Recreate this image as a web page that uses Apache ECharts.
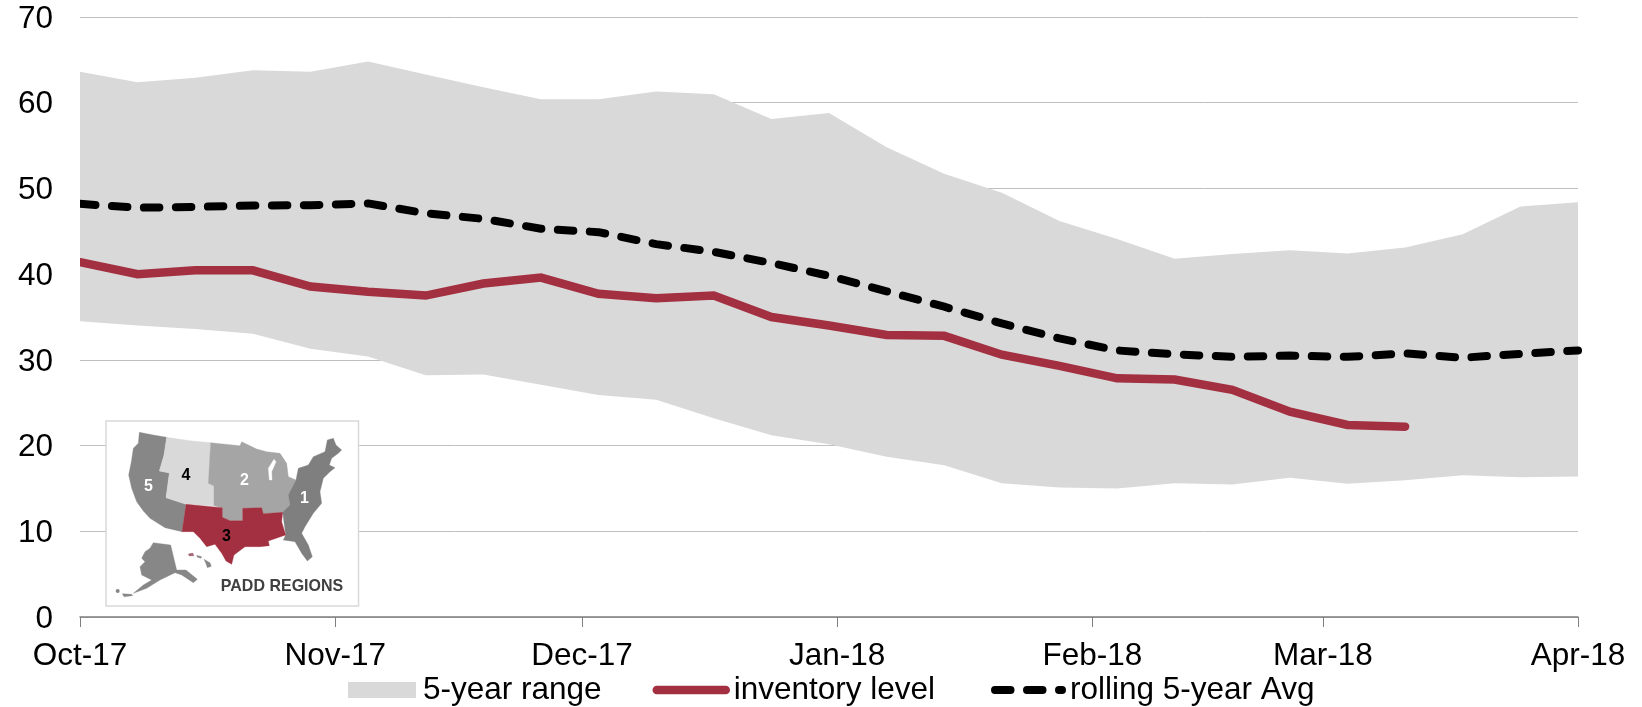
<!DOCTYPE html>
<html>
<head>
<meta charset="utf-8">
<title>PADD 3 inventory</title>
<style>
  html, body { margin: 0; padding: 0; background: #fff; }
  #chart { width: 1642px; height: 707px; }
</style>
<script src="https://cdn.jsdelivr.net/npm/echarts@6/dist/echarts.min.js"></script>
</head>
<body>
<div id="chart"></div>
<script>
// Weekly observation dates
const weeks = [
  '2017-10-01','2017-10-08','2017-10-15','2017-10-22','2017-10-29',
  '2017-11-05','2017-11-12','2017-11-19','2017-11-26',
  '2017-12-03','2017-12-10','2017-12-17','2017-12-24','2017-12-31',
  '2018-01-07','2018-01-14','2018-01-21','2018-01-28',
  '2018-02-04','2018-02-11','2018-02-18','2018-02-25',
  '2018-03-04','2018-03-11','2018-03-18','2018-03-25','2018-04-01'
];

// Lower and upper edges of the 5-year range
const rangeLow = [
  34.5,34.0,33.6,33.05,31.3,30.4,28.2,28.3,27.1,25.9,25.35,23.2,21.2,20.15,
  18.7,17.7,15.6,15.1,15.0,15.6,15.45,16.25,15.55,15.95,16.55,16.3,16.4
];
const rangeHigh = [
  63.6,62.4,62.9,63.8,63.6,64.8,63.3,61.8,60.4,60.4,61.3,61.0,58.1,58.8,
  54.8,51.7,49.5,46.2,44.1,41.8,42.35,42.8,42.4,43.1,44.65,47.9,48.4
];

// Inventory level, reported through late March
const inventory = [
  41.4,40.0,40.45,40.45,38.55,37.95,37.5,38.9,39.6,37.7,37.2,37.5,35.0,34.0,
  32.9,32.8,30.6,29.3,27.85,27.7,26.5,23.95,22.4,22.2
];

// Rolling 5-year average
const rollingAvg = [
  48.2,47.75,47.85,48.0,48.05,48.25,47.1,46.45,45.3,44.9,43.5,42.6,41.3,39.8,
  38.0,36.2,34.25,32.5,31.1,30.65,30.35,30.5,30.35,30.75,30.25,30.7,31.1
];

// Month ticks on the date axis
const monthTicks = ['2017-10-01','2017-11-01','2017-12-01','2018-01-01','2018-02-01','2018-03-01','2018-04-01'];
const monthLabels = ['Oct-17','Nov-17','Dec-17','Jan-18','Feb-18','Mar-18','Apr-18'];

const FONT = '"Liberation Sans", Arial, sans-serif';
const TEXT_SIZE = 31.5;
const RED = '#a33041';
const pairs = (values) => values.map((v, i) => [weeks[i], v]);
const tickTimes = monthTicks.map((d) => +echarts.time.parse(d));

// PADD region outlines for the inset map, in the inset's own drawing units
const padd5 = [[148,82],[190,90],[230,97],[222,150],[208,198],[238,204],[228,278],[288,298],[276,380],[225,368],[180,340],[160,318],[140,290],[125,250],[116,210],[124,170],[130,130],[145,115]];
const padd4 = [[230,97],[300,107],[362,113],[355,235],[372,243],[372,302],[288,298],[228,278],[238,204],[208,198],[222,150]];
const padd2 = [[362,113],[450,122],[455,110],[500,132],[530,140],[570,145],[590,175],[595,215],[618,225],[595,270],[600,300],[578,322],[520,326],[515,308],[458,310],[458,347],[420,347],[397,337],[397,308],[372,302],[372,243],[355,235]];
const lakeMichigan = [[538,225],[535,190],[552,163],[558,170],[545,200],[546,225]];
const padd3 = [[288,298],[397,308],[397,337],[420,347],[458,347],[458,310],[515,308],[520,326],[578,322],[575,350],[587,390],[535,408],[538,422],[510,425],[465,425],[432,450],[425,478],[408,468],[395,445],[375,418],[350,425],[330,400],[310,380],[276,380]];
const padd1 = [[712,105],[730,100],[738,120],[755,135],[745,145],[725,160],[718,180],[735,188],[720,200],[700,220],[690,260],[695,295],[670,325],[645,365],[635,385],[655,420],[667,455],[652,468],[635,445],[615,410],[580,405],[587,390],[578,322],[600,300],[595,270],[618,225],[625,190],[655,180],[670,155],[705,140]];
const alaska = [[190,413],[242,420],[260,495],[288,495],[322,523],[310,533],[275,510],[255,503],[210,525],[170,550],[130,565],[160,540],[185,525],[155,510],[150,485],[165,470],[155,460],[165,440],[180,430]];
const aleutians = [[97,566],[125,568],[128,572],[102,575]];
const kauai = [[295,447],[308,444],[312,452],[298,453]];
const oahu = [[320,451],[335,455],[333,460],[322,457]];
const bigIsland = [[342,463],[360,473],[364,484],[352,488],[348,476]];

const INSET_Z = 101;
const poly = (points, fill) => ({ type: 'polygon', z: INSET_Z, shape: { points }, style: { fill, stroke: fill, lineWidth: 1 } });
const mapText = (text, x, y, fill, size) => ({
  type: 'text', x, y, z: INSET_Z + 1,
  style: { text, fill, font: 'bold ' + size + 'px ' + FONT, textAlign: 'center', textVerticalAlign: 'middle' }
});

const chart = echarts.init(document.getElementById('chart'), null, { renderer: 'canvas' });
chart.setOption({
  animation: false,
  backgroundColor: '#fff',
  textStyle: { fontFamily: FONT },
  grid: { left: 80, right: 64, top: 17, bottom: 90 },
  xAxis: {
    type: 'time',
    min: '2017-10-01',
    max: '2018-04-01',
    splitNumber: 6,
    splitLine: { show: false },
    axisLine: { show: true, lineStyle: { color: '#7f7f7f', width: 1.5 } },
    axisTick: { show: true, length: 10, lineStyle: { color: '#7f7f7f', width: 1 } },
    axisLabel: {
      showMinLabel: true,
      showMaxLabel: true,
      alignMinLabel: 'center',
      alignMaxLabel: 'center',
      hideOverlap: false,
      margin: 23,
      fontSize: TEXT_SIZE,
      fontFamily: FONT,
      color: '#000',
      formatter: (value) => monthLabels[tickTimes.indexOf(+value)] || ''
    }
  },
  yAxis: {
    type: 'value',
    min: 0,
    max: 70,
    interval: 10,
    axisLine: { show: false },
    axisTick: { show: false },
    splitLine: { show: true, lineStyle: { color: '#bfbfbf', width: 1 } },
    axisLabel: { margin: 27, fontSize: TEXT_SIZE, fontFamily: FONT, color: '#000', verticalAlign: 'top', lineHeight: 4 }
  },
  legend: [
    {
      data: [{ name: '5-year range', icon: 'rect', itemStyle: { color: '#d9d9d9' } }],
      left: 348, top: 674, padding: 0, itemWidth: 68, itemHeight: 16,
      textStyle: { fontSize: TEXT_SIZE, fontFamily: FONT, color: '#000', padding: [0, 0, 0, 2], lineHeight: 16 }
    },
    {
      data: ['inventory level'],
      left: 652.5, top: 674, padding: 0, itemWidth: 69, itemHeight: 16,
      itemStyle: { opacity: 0 },
      lineStyle: { width: 8.5, cap: 'round' },
      textStyle: { fontSize: TEXT_SIZE, fontFamily: FONT, color: '#000', padding: [0, 0, 0, 3], lineHeight: 16 }
    },
    {
      data: ['rolling 5-year Avg'],
      left: 991, top: 674, padding: 0, itemWidth: 67, itemHeight: 16,
      itemStyle: { opacity: 0 },
      lineStyle: { width: 8, cap: 'round', type: [15.5, 16.5] },
      textStyle: { fontSize: TEXT_SIZE, fontFamily: FONT, color: '#000', padding: [0, 0, 0, 3], lineHeight: 16 }
    }
  ],
  series: [
    {
      name: 'range floor',
      type: 'line',
      stack: 'range',
      data: pairs(rangeLow),
      showSymbol: false,
      silent: true,
      lineStyle: { width: 0 },
      areaStyle: { opacity: 0 }
    },
    {
      name: '5-year range',
      type: 'line',
      stack: 'range',
      data: pairs(rangeHigh.map((h, i) => h - rangeLow[i])),
      showSymbol: false,
      silent: true,
      itemStyle: { color: '#d9d9d9' },
      lineStyle: { width: 0 },
      areaStyle: { color: '#d9d9d9', opacity: 1 }
    },
    {
      name: 'inventory level',
      type: 'line',
      data: pairs(inventory),
      showSymbol: false,
      symbol: 'none',
      z: 3,
      itemStyle: { color: RED },
      lineStyle: { color: RED, width: 8.5, cap: 'round', join: 'miter' }
    },
    {
      name: 'rolling 5-year Avg',
      type: 'line',
      data: pairs(rollingAvg),
      showSymbol: false,
      symbol: 'none',
      z: 4,
      itemStyle: { color: '#000' },
      lineStyle: { color: '#000', width: 8, type: [15.5, 16.5], cap: 'round', join: 'round' }
    }
  ],
  graphic: [
    // Squares off the line caps where the plot begins
    {
      type: 'rect',
      z: 50,
      shape: { x: 72, y: 180, width: 8, height: 120 },
      style: { fill: '#fff' }
    },
    // Inset panel that sits over the gridlines
    {
      type: 'rect',
      z: 100,
      shape: { x: 106, y: 421, width: 252.5, height: 185 },
      style: { fill: '#fff', stroke: '#d9d9d9', lineWidth: 1.5 }
    },
    // Map of the PADD regions, with PADD 3 highlighted
    {
      type: 'group',
      x: 90, y: 405,
      scaleX: 1 / 3, scaleY: 1 / 3,
      z: INSET_Z,
      children: [
        poly(padd5, '#878787'),
        poly(padd4, '#d9d9d9'),
        poly(padd2, '#a5a5a5'),
        poly(lakeMichigan, '#fff'),
        poly(padd1, '#7f7f7f'),
        poly(padd3, RED),
        poly(alaska, '#878787'),
        poly(aleutians, '#878787'),
        poly(kauai, '#a0606d'),
        poly(oahu, '#878787'),
        poly(bigIsland, '#878787'),
        { type: 'circle', z: INSET_Z, shape: { cx: 83, cy: 558, r: 6 }, style: { fill: '#878787' } },
        mapText('5', 175, 244, '#fff', 48),
        mapText('4', 288, 212, '#000', 48),
        mapText('2', 463, 228, '#fff', 48),
        mapText('1', 643, 280, '#fff', 48),
        mapText('3', 409, 394, '#000', 48),
        mapText('PADD REGIONS', 576, 545, '#404040', 48)
      ]
    }
  ]
});
</script>
</body>
</html>
